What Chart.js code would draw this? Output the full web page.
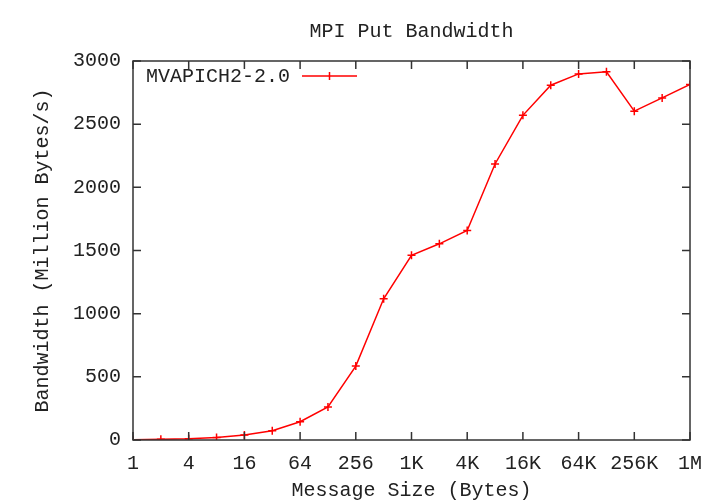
<!DOCTYPE html>
<html>
<head>
<meta charset="utf-8">
<title>MPI Put Bandwidth</title>
<script src="https://cdn.jsdelivr.net/npm/chart.js@4.4.1/dist/chart.umd.min.js"></script>
<style>
    html, body { margin: 0; padding: 0; background: #fff; }
    #wrap { width: 720px; height: 504px; }
</style>
</head>
<body>
<div id="wrap"><canvas id="bwChart" width="720" height="504"></canvas></div>
<script>
// Message sizes (log2 steps) and measured bandwidth
const sizes = ['1', '2', '4', '8', '16', '32', '64', '128', '256', '512', '1K', '2K', '4K', '8K', '16K', '32K', '64K', '128K', '256K', '512K', '1M'];
const bandwidth = [2, 5, 10, 20, 40, 74, 145, 262, 585, 1118, 1462, 1553, 1658, 2185, 2570, 2808, 2898, 2914, 2603, 2708, 2814];
const xTickLabels = ['1', '4', '16', '64', '256', '1K', '4K', '16K', '64K', '256K', '1M'];
const yTicks = [0, 500, 1000, 1500, 2000, 2500, 3000];
const seriesName = 'MVAPICH2-2.0';
const chartTitle = 'MPI Put Bandwidth';

const FONT = 'Liberation Mono';
const FONT_SIZE = 20;
const LINE_COLOR = '#ff0000';

// gnuplot-like frame with inward ticks, title and an inside legend
const framePlugin = {
    id: 'frame',
    afterDraw: function(chart) {
        const ctx = chart.ctx;
        const area = chart.chartArea;
        const xs = chart.scales.x;
        const ys = chart.scales.y;
        const len = 8;

        ctx.save();
        ctx.strokeStyle = '#333';
        ctx.lineWidth = 1.5;
        ctx.strokeRect(area.left, area.top, area.right - area.left, area.bottom - area.top);

        ctx.beginPath();
        xs.ticks.forEach(function(t) {
            const px = xs.getPixelForValue(t.value);
            ctx.moveTo(px, area.bottom);
            ctx.lineTo(px, area.bottom - len);
            ctx.moveTo(px, area.top);
            ctx.lineTo(px, area.top + len);
        });
        ys.ticks.forEach(function(t) {
            const py = ys.getPixelForValue(t.value);
            ctx.moveTo(area.left, py);
            ctx.lineTo(area.left + len, py);
            ctx.moveTo(area.right, py);
            ctx.lineTo(area.right - len, py);
        });
        ctx.stroke();

        ctx.font = FONT_SIZE + 'px "' + FONT + '"';
        ctx.fillStyle = '#222';
        ctx.textBaseline = 'middle';

        // title centred over the plot area
        ctx.textAlign = 'center';
        ctx.fillText(chartTitle, (area.left + area.right) / 2, 32);

        // legend
        const ds = chart.data.datasets[0];
        ctx.textAlign = 'left';
        ctx.fillText(ds.label, 146, 77);
        ctx.strokeStyle = LINE_COLOR;
        ctx.lineWidth = 1.5;
        ctx.beginPath();
        ctx.moveTo(302, 76);
        ctx.lineTo(357, 76);
        ctx.moveTo(329.5, 72);
        ctx.lineTo(329.5, 80);
        ctx.moveTo(325.5, 76);
        ctx.lineTo(333.5, 76);
        ctx.stroke();
        ctx.restore();
    }
};

const ctx = document.getElementById('bwChart').getContext('2d');
new Chart(ctx, {
    type: 'line',
    data: {
        datasets: [{
            label: seriesName,
            data: bandwidth.map(function(v, i) { return { x: i, y: v }; }),
            borderColor: LINE_COLOR,
            backgroundColor: LINE_COLOR,
            borderWidth: 1.5,
            pointStyle: 'cross',
            pointRadius: 4,
            pointBorderWidth: 1.5,
            pointBorderColor: LINE_COLOR,
            fill: false,
            tension: 0
        }]
    },
    options: {
        responsive: false,
        animation: false,
        layout: { padding: { left: 0, right: 30, top: 61, bottom: 0 } },
        plugins: {
            legend: { display: false },
            tooltip: { enabled: false },
            title: { display: false }
        },
        scales: {
            x: {
                type: 'linear',
                min: 0,
                max: sizes.length - 1,
                grid: { display: false, drawTicks: false },
                border: { display: false },
                afterFit: function(scale) { scale.height = 64; },
                ticks: {
                    stepSize: 2,
                    padding: 12,
                    color: '#222',
                    maxRotation: 0,
                    autoSkip: false,
                    font: { family: FONT, size: FONT_SIZE },
                    callback: function(value) { return xTickLabels[value / 2]; }
                },
                title: {
                    display: true,
                    text: 'Message Size (Bytes)',
                    color: '#222',
                    font: { family: FONT, size: FONT_SIZE },
                    padding: { top: 4, bottom: 1 }
                }
            },
            y: {
                min: yTicks[0],
                max: yTicks[yTicks.length - 1],
                grid: { display: false, drawTicks: false },
                border: { display: false },
                afterFit: function(scale) { scale.width = 133; },
                ticks: {
                    stepSize: 500,
                    padding: 12,
                    color: '#222',
                    font: { family: FONT, size: FONT_SIZE },
                    callback: function(value) { return String(value); }
                },
                title: {
                    display: true,
                    text: 'Bandwidth (Million Bytes/s)',
                    color: '#222',
                    font: { family: FONT, size: FONT_SIZE },
                    padding: { top: 31, bottom: 0 }
                }
            }
        }
    },
    plugins: [framePlugin]
});
</script>
</body>
</html>
